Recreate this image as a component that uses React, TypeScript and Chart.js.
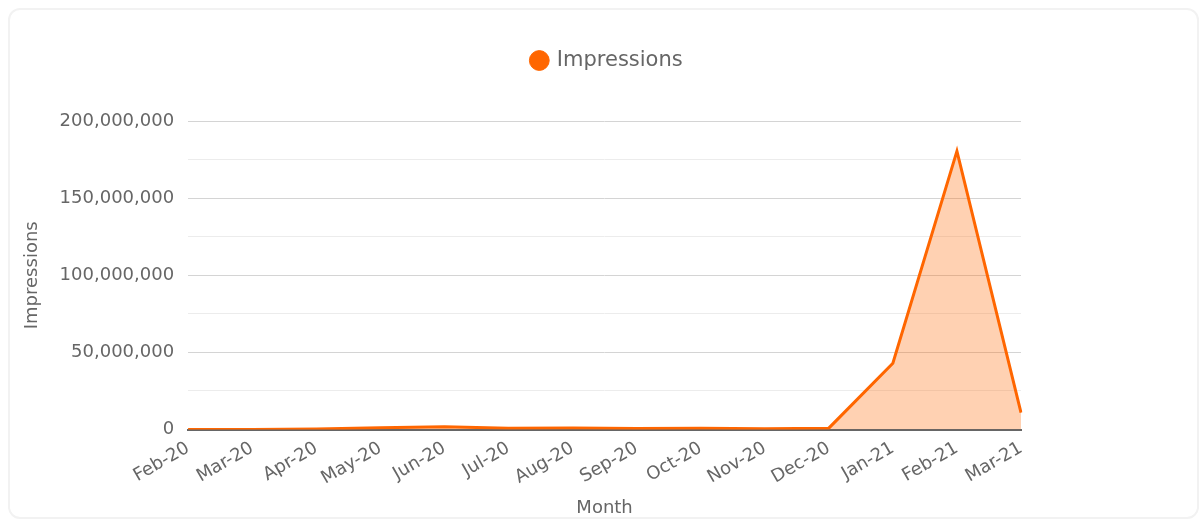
import React, { useEffect, useRef } from "react";
import { Chart, registerables } from "chart.js";

Chart.register(...registerables);

const months = [
  "Feb-20", "Mar-20", "Apr-20", "May-20", "Jun-20", "Jul-20", "Aug-20",
  "Sep-20", "Oct-20", "Nov-20", "Dec-20", "Jan-21", "Feb-21", "Mar-21",
];

const impressions = [
  50000, 100000, 300000, 1200000, 1800000, 800000, 1000000,
  700000, 900000, 500000, 900000, 43000000, 180500000, 11000000,
];

const yMax = 200000000;
const yStep = 25000000;
const yLabelStep = 50000000;

const legendGap = {
  id: "legendGap",
  beforeInit(chart: any) {
    const legend = chart.legend;
    if (!legend) return;
    const orig = legend.fit;
    legend.fit = function () {
      orig.bind(legend)();
      this.height += 40;
    };
  },
};

export default function App() {
  const ref = useRef<HTMLCanvasElement | null>(null);

  useEffect(() => {
    document.documentElement.style.overflow = "hidden";
    const ctx = ref.current;
    if (!ctx) return;
    const font = "'DejaVu Sans', sans-serif";
    const chart = new Chart(ctx, {
      type: "line",
      data: {
        labels: months,
        datasets: [
          {
            label: "Impressions",
            data: impressions,
            borderColor: "#ff6600",
            backgroundColor: "rgba(255,102,0,0.3)",
            borderWidth: 3,
            fill: "origin",
            tension: 0,
            pointRadius: 0,
            pointHoverRadius: 0,
            pointStyle: "circle",
            yAxisID: "y",
          },
        ],
      },
      plugins: [legendGap],
      options: {
        animation: false,
        responsive: true,
        maintainAspectRatio: false,
        layout: { padding: { left: 8, right: 0, top: 28, bottom: 0 } },
        plugins: {
          legend: {
            position: "top",
            labels: {
              usePointStyle: true,
              boxWidth: 14,
              boxHeight: 14,
              color: "#666",
              padding: 12,
              font: { family: font, size: 21 },
              generateLabels: () => [
                {
                  text: "Impressions",
                  fillStyle: "#ff6600",
                  strokeStyle: "#ff6600",
                  lineWidth: 1,
                  pointStyle: "circle",
                  hidden: false,
                  datasetIndex: 0,
                  fontColor: "#666",
                },
              ],
            },
          },
          tooltip: { enabled: false },
        },
        scales: {
          x: {
            grid: { display: false, drawTicks: false },
            border: { display: true, color: "#666", width: 2 },
            ticks: {
              color: "#666",
              font: { family: font, size: 18 },
              minRotation: 30,
              maxRotation: 30,
              padding: 8,
              autoSkip: false,
            },
            title: {
              display: true,
              text: "Month",
              color: "#666",
              font: { family: font, size: 18 },
              padding: { top: 0, bottom: 0 },
            },
          },
          y: {
            min: 0,
            max: yMax,
            grid: {
              drawTicks: false,
              color: (c: any) =>
                c.tick && c.tick.value % yLabelStep === 0 ? "#d4d4d4" : "#ececec",
            },
            border: { display: false },
            ticks: {
              stepSize: yStep,
              color: "#666",
              padding: 14,
              font: { family: font, size: 18 },
              callback: (v: any) =>
                Number(v) % yLabelStep === 0 ? Number(v).toLocaleString("en-US") : "",
            },
            title: {
              display: true,
              text: "Impressions",
              color: "#666",
              font: { family: font, size: 18 },
              padding: { top: 4, bottom: 2 },
            },
          },
          yRight: {
            position: "right",
            min: 0,
            max: 1,
            grid: { display: false, drawTicks: false },
            border: { display: false },
            ticks: { display: false },
            afterFit: (s: any) => {
              s.width = 176;
            },
          },
        },
      },
    });
    return () => chart.destroy();
  }, []);

  return (
    <div
      style={{
        position: "absolute",
        left: 8,
        top: 8,
        width: 1191,
        height: 511,
        boxSizing: "border-box",
        border: "2px solid #f2f2f2",
        borderRadius: 12,
        background: "#fff",
        overflow: "hidden",
      }}
    >
      <div style={{ position: "relative", width: "100%", height: "calc(100% + 2px)" }}>
        <canvas ref={ref} />
      </div>
    </div>
  );
}
